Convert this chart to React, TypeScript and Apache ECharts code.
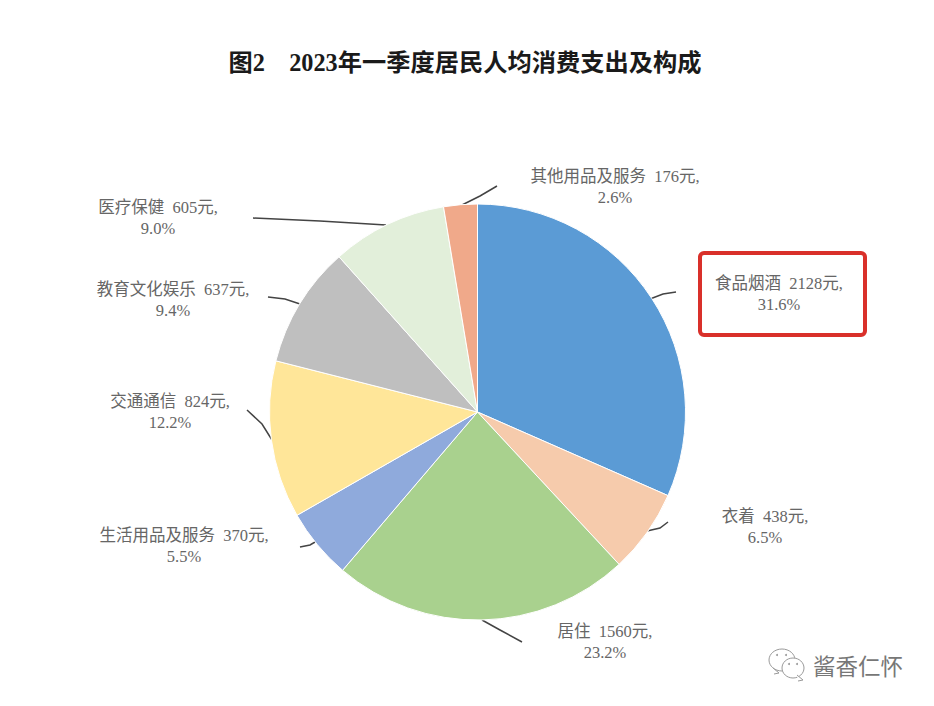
import React, { useEffect, useRef } from "react";
import * as echarts from "echarts";

const titleText = "图2\u30002023年一季度居民人均消费支出及构成";
const categories = ["食品烟酒", "衣着", "居住", "生活用品及服务", "交通通信", "教育文化娱乐", "医疗保健", "其他用品及服务"];
const amounts = [2128, 438, 1560, 370, 824, 637, 605, 176];
const shares = ["31.6%", "6.5%", "23.2%", "5.5%", "12.2%", "9.4%", "9.0%", "2.6%"];
const colors = ["#5b9bd5", "#f6cbac", "#a9d18e", "#8faadc", "#ffe699", "#bfbfbf", "#e2efda", "#f0a98a"];
const labelCenters = [[779, 294], [765, 527], [605, 642], [184, 546], [170, 412], [173, 300], [158, 218], [615, 187]];
const leaders = [
  [[650, 299], [663, 294], [676, 292]],
  [[647, 531], [660, 528], [668, 522]],
  [[482, 620], [500, 630], [522, 642]],
  [[300, 547], [310, 545], [322, 538]],
  [[272, 440], [262, 424], [247, 410]],
  [[300, 304], [285, 299], [268, 297]],
  [[386, 225], [320, 221], [253, 218]],
  [[462, 205], [480, 196], [497, 186]],
];
const watermark = "酱香仁怀";
const SERIF = '"Liberation Serif", "Noto Sans CJK SC", serif';

echarts.graphic.registerShape(
  "bubbleTail",
  echarts.graphic.extendPath("M0 0 L6 5 L1 6", {})
);

export default function App() {
  const ref = useRef<HTMLDivElement>(null);
  useEffect(() => {
    const chart = echarts.init(ref.current!, null, { renderer: "svg" });
    const iconLine = { fill: "#fff", stroke: "#9a9a9a", lineWidth: 1 };
    chart.setOption({
      animation: false,
      backgroundColor: "#ffffff",
      title: {
        text: titleText,
        left: 460,
        top: 45,
        textAlign: "center",
        textStyle: { fontFamily: SERIF, fontSize: 24.25, fontWeight: "bold", color: "#1a1a1a" },
      },
      series: [
        {
          type: "pie",
          center: [477.5, 412],
          radius: [0, 208],
          startAngle: 90,
          clockwise: true,
          silent: true,
          data: categories.map((name, i) => ({
            name,
            value: amounts[i],
            itemStyle: { color: colors[i], borderColor: "#ffffff", borderWidth: 1 },
          })),
          label: {
            show: true,
            formatter: (p: any) => `${p.name}  ${amounts[p.dataIndex]}元,\n${shares[p.dataIndex]}`,
            fontFamily: SERIF,
            fontSize: 16.5,
            lineHeight: 21,
            color: "#666666",
            align: "center",
            verticalAlign: "middle",
          },
          labelLine: { show: true, lineStyle: { color: "#444444", width: 1.5 } },
          labelLayout: (p: any) => ({
            x: labelCenters[p.dataIndex][0],
            y: labelCenters[p.dataIndex][1],
            align: "center",
            verticalAlign: "middle",
            labelLinePoints: leaders[p.dataIndex],
          }),
        },
      ],
      graphic: [
        {
          type: "rect",
          shape: { x: 700, y: 253, width: 165, height: 82, r: 4 },
          style: { fill: "none", stroke: "#d9302a", lineWidth: 4 },
        },
        { type: "ellipse", shape: { cx: 782, cy: 660, rx: 13, ry: 11 }, style: iconLine },
        { type: "bubbleTail", x: 773, y: 668, style: iconLine },
        { type: "ellipse", shape: { cx: 793, cy: 668, rx: 11, ry: 10 }, style: iconLine },
        { type: "bubbleTail", x: 797, y: 675, style: iconLine },
        { type: "circle", shape: { cx: 777, cy: 655, r: 1 }, style: { fill: "#9a9a9a" } },
        { type: "circle", shape: { cx: 786, cy: 655, r: 1 }, style: { fill: "#9a9a9a" } },
        { type: "circle", shape: { cx: 789, cy: 664, r: 1 }, style: { fill: "#9a9a9a" } },
        { type: "circle", shape: { cx: 797, cy: 664, r: 1 }, style: { fill: "#9a9a9a" } },
        {
          type: "text",
          x: 813,
          y: 665,
          style: {
            text: watermark,
            fontFamily: '"Noto Sans CJK SC"',
            fontSize: 22.5,
            fill: "#777777",
            textAlign: "left",
            textVerticalAlign: "middle",
          },
        },
      ],
    });
    return () => chart.dispose();
  }, []);
  return <div ref={ref} style={{ width: 934, height: 706, position: "absolute", left: 0, top: 0 }} />;
}
